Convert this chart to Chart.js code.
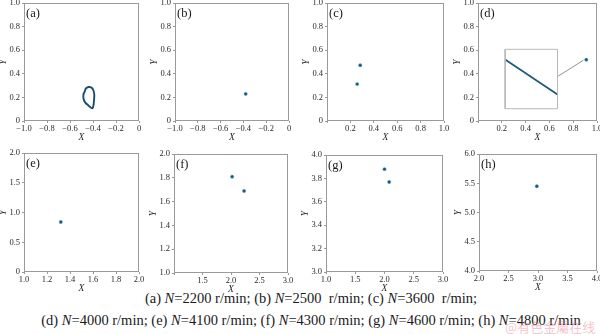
<!DOCTYPE html>
<html><head><meta charset="utf-8">
<script src="https://cdn.jsdelivr.net/npm/chart.js@4.4.1/dist/chart.umd.min.js"></script>
<style>
html,body{margin:0;padding:0;background:#fff;width:600px;height:334px;overflow:hidden;position:relative;}
canvas{position:absolute;}
.cap{position:absolute;left:0;width:622px;text-align:center;font-family:"Liberation Serif",serif;font-size:14.5px;color:#1a1a1a;white-space:pre;line-height:16px;}
.cap i{font-style:italic;}
.wm{position:absolute;left:505px;top:319px;font-family:"Noto Sans CJK SC",sans-serif;font-size:13px;color:rgba(235,120,135,0.45);white-space:nowrap;line-height:16px;}
</style></head><body>
<div class="cap" style="top:290px">(a) <i>N</i>=2200 r/min; (b) <i>N</i>=2500  r/min; (c) <i>N</i>=3600  r/min;</div>
<div class="cap" style="top:312px">(d) <i>N</i>=4000 r/min; (e) <i>N</i>=4100 r/min; (f) <i>N</i>=4300 r/min; (g) <i>N</i>=4600 r/min; (h) <i>N</i>=4800 r/min</div>
<div class="wm">@有色金屬在线</div>
<script>
// ---------- data ----------
const panelLabels = ['(a)','(b)','(c)','(d)','(e)','(f)','(g)','(h)'];
// (a) closed orbit (N=2200)
const loopA_X = [-0.474,-0.461,-0.439,-0.417,-0.400,-0.389,-0.391,-0.396,-0.404,-0.417,-0.443,-0.470,-0.483,-0.483,-0.474];
const loopA_Y = [0.244,0.277,0.288,0.286,0.269,0.227,0.176,0.134,0.109,0.113,0.134,0.160,0.193,0.227,0.244];
// (b) period-1
const ptsB_X = [-0.38];
const ptsB_Y = [0.23];
// (c) period-2
const ptsC_X = [0.284, 0.258];
const ptsC_Y = [0.473, 0.313];
// (d) point + inset
const ptsD_X = [0.91];
const ptsD_Y = [0.52];
const insetBoxD_X = [0.228, 0.668, 0.668, 0.228, 0.228];
const insetBoxD_Y = [0.104, 0.104, 0.608, 0.608, 0.104];
const insetLineD_X = [0.228, 0.668];
const insetLineD_Y = [0.521, 0.225];
const arrowD_X = [0.673, 0.885];
const arrowD_Y = [0.380, 0.515];
// (e)-(h)
const ptsE_X = [1.32];
const ptsE_Y = [0.84];
const ptsF_X = [2.02, 2.23];
const ptsF_Y = [1.81, 1.69];
const ptsG_X = [2.00, 2.08];
const ptsG_Y = [3.88, 3.77];
const ptsH_X = [2.98];
const ptsH_Y = [5.45];
// tick values
const ticksAB_X = [-1.0,-0.8,-0.6,-0.4,-0.2,0];
const ticks01 = [0,0.2,0.4,0.6,0.8,1.0];
const ticksE_X = [1.0,1.2,1.4,1.6,1.8,2.0];
const ticksE_Y = [0,0.5,1.0,1.5,2.0];
const ticksF_X = [1.0,1.5,2.0,2.5,3.0];
const ticksF_Y = [1.0,1.2,1.4,1.6,1.8,2.0];
const ticksG_X = [1.0,1.5,2.0,2.5,3.0];
const ticksG_Y = [3.0,3.2,3.4,3.6,3.8,4.0];
const ticksH_X = [2.0,2.5,3.0,3.5,4.0];
const ticksH_Y = [4.0,4.5,5.0,5.5,6.0];

// ---------- helpers ----------
const toPts = (xs, ys) => xs.map((x, i) => ({x, y: ys[i]}));
const DOT = '#1d5878';
const dots = (xs, ys) => ({data: toPts(xs, ys), showLine: false, pointRadius: 1.7, pointBackgroundColor: DOT, pointBorderColor: 'rgba(90,170,200,0.6)', pointBorderWidth: 0.6});
const fmt = v => (Math.abs(v) < 1e-9 ? '0' : (v < 0 ? '\u2212' + Math.abs(v).toFixed(1) : v.toFixed(1)));

const framePlugin = {
  id: 'frame',
  afterDraw(chart) {
    const {ctx, chartArea: a} = chart;
    ctx.save();
    ctx.strokeStyle = '#9a9a9a';
    ctx.lineWidth = 1;
    ctx.strokeRect(Math.round(a.left) + 0.5, Math.round(a.top) + 0.5, Math.round(a.right - a.left) - 1, Math.round(a.bottom - a.top) - 1);
    ctx.fillStyle = '#1a1a1a';
    ctx.font = '12.5px "Liberation Serif"';
    ctx.textBaseline = 'top';
    ctx.fillText(chart.options.plugins.frame.label, a.left + 2, a.top + 4);
    ctx.restore();
  }
};

const panels = [
  {pos:[24,2,115,119], xr:[-1,0], yr:[0,1], xt:ticksAB_X, yt:ticks01, hideX:[], ds:[{data: toPts(loopA_X, loopA_Y), showLine:true, pointRadius:0, borderColor:'#1a4d6b', borderWidth:1.9, tension:0.3}]},
  {pos:[175,2,114,119], xr:[-1,0], yr:[0,1], xt:ticksAB_X, yt:ticks01, hideX:[], ds:[dots(ptsB_X, ptsB_Y)]},
  {pos:[327,2,117,119], xr:[0,1], yr:[0,1], xt:ticks01, yt:ticks01, hideX:[0], ds:[dots(ptsC_X, ptsC_Y)]},
  {pos:[478,2,119,119], xr:[0,1], yr:[0,1], xt:ticks01, yt:ticks01, hideX:[0], ds:[
    {data: toPts(insetBoxD_X, insetBoxD_Y), showLine:true, pointRadius:0, borderColor:'#b8b8b8', borderWidth:1, tension:0},
    {data: toPts(insetLineD_X, insetLineD_Y), showLine:true, pointRadius:0, borderColor:'#1d5878', borderWidth:1.7, tension:0},
    {data: toPts(arrowD_X, arrowD_Y), showLine:true, pointRadius:0, borderColor:'#777', borderWidth:0.8, tension:0},
    dots(ptsD_X, ptsD_Y)]},
  {pos:[24,152,115,120], xr:[1,2], yr:[0,2], xt:ticksE_X, yt:ticksE_Y, hideX:[], ds:[dots(ptsE_X, ptsE_Y)]},
  {pos:[174,153,114,120], xr:[1,3], yr:[1,2], xt:ticksF_X, yt:ticksF_Y, hideX:[1.0], ds:[dots(ptsF_X, ptsF_Y)]},
  {pos:[326,154,117,118], xr:[1,3], yr:[3,4], xt:ticksG_X, yt:ticksG_Y, hideX:[], ds:[dots(ptsG_X, ptsG_Y)]},
  {pos:[479,153,118,118], xr:[2,4], yr:[4,6], xt:ticksH_X, yt:ticksH_Y, hideX:[], ds:[dots(ptsH_X, ptsH_Y)]}
];

const YW = 26, XH = 22, PT = 6, PR = 10;
const tickFont = {family: '"Liberation Serif"', size: 8.5};
const titleFont = {family: '"Liberation Serif"', size: 9.5, style: 'italic'};

panels.forEach((p, idx) => {
  const [L, T, W, H] = p.pos;
  const cv = document.createElement('canvas');
  cv.width = YW + W + PR; cv.height = PT + H + XH;
  cv.style.left = (L - YW) + 'px'; cv.style.top = (T - PT) + 'px';
  cv.style.width = cv.width + 'px'; cv.style.height = cv.height + 'px';
  document.body.appendChild(cv);
  const mkTicks = arr => function(scale){ scale.ticks = arr.map(v => ({value: v})); };
  new Chart(cv, {
    type: 'scatter',
    data: {datasets: p.ds},
    options: {
      responsive: false, animation: false, devicePixelRatio: 1,
      layout: {padding: {top: PT, right: PR, left: 0, bottom: 0}},
      plugins: {legend: {display: false}, tooltip: {enabled: false}, frame: {label: panelLabels[idx]}},
      scales: {
        x: {type: 'linear', position: 'bottom', min: p.xr[0], max: p.xr[1],
          afterBuildTicks: mkTicks(p.xt),
          afterFit(s){ s.height = XH; },
          grid: {drawOnChartArea: false, drawTicks: true, tickLength: 2, color: '#999'},
          border: {display: false},
          ticks: {font: tickFont, color: '#2a2a2a', padding: 1, maxRotation: 0, autoSkip: false,
            callback: v => p.hideX.some(h => Math.abs(h - v) < 1e-9) ? '' : fmt(v)},
          title: {display: true, text: 'X', font: titleFont, color: '#2a2a2a', padding: 0}},
        y: {type: 'linear', position: 'left', min: p.yr[0], max: p.yr[1],
          afterBuildTicks: mkTicks(p.yt),
          afterFit(s){ s.width = YW; },
          grid: {drawOnChartArea: false, drawTicks: true, tickLength: 2, color: '#999'},
          border: {display: false},
          ticks: {font: tickFont, color: '#2a2a2a', padding: 2, autoSkip: false, callback: v => fmt(v)},
          title: {display: true, text: 'Y', font: titleFont, color: '#2a2a2a', padding: 0}}
      }
    },
    plugins: [framePlugin]
  });
});
</script>
</body></html>
